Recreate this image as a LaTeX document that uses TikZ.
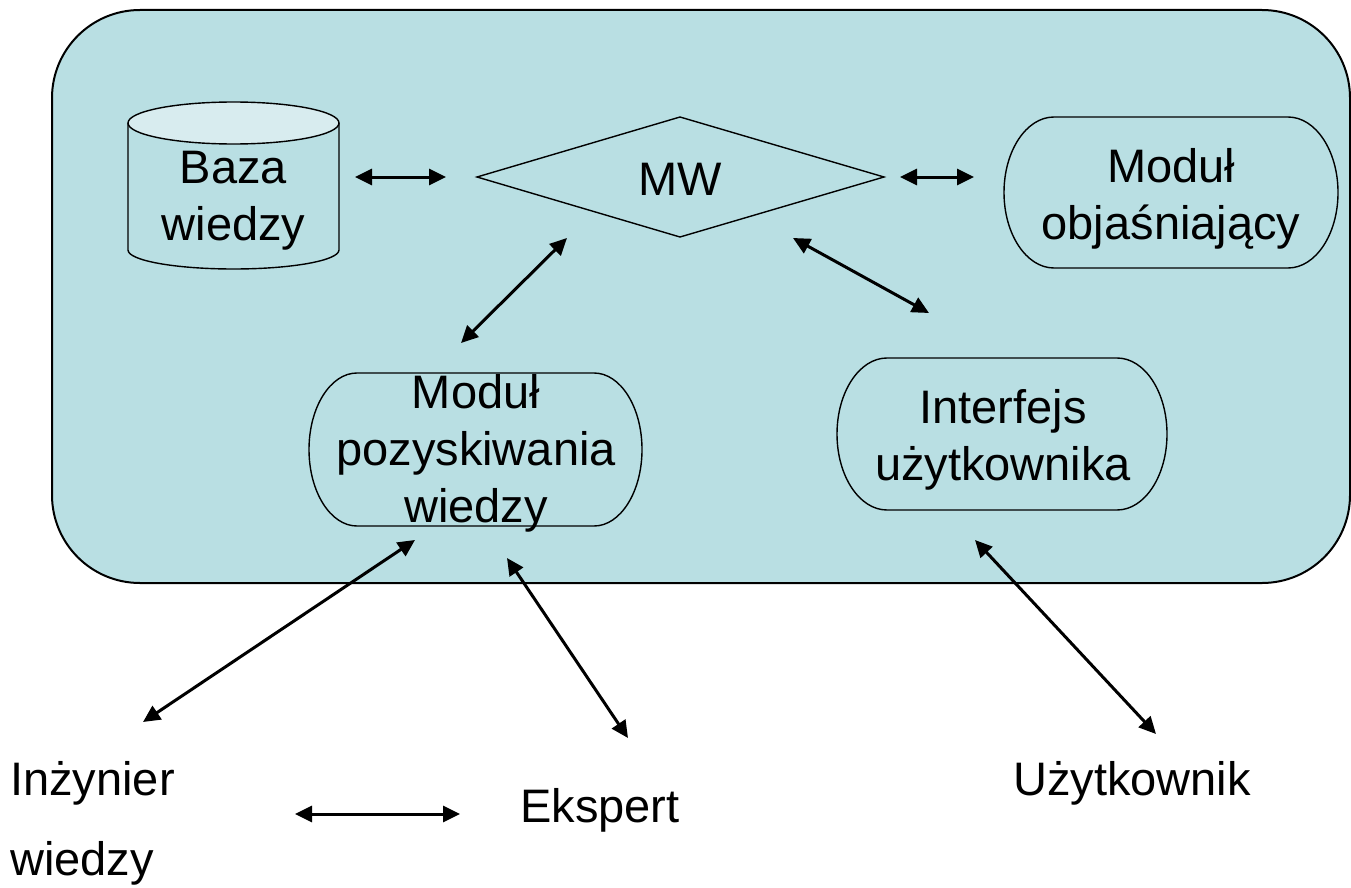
\documentclass[tikz,border=0pt]{standalone}
\usepackage{fontspec}
\setmainfont{Liberation Sans}
\usetikzlibrary{arrows.meta}
\definecolor{panel}{HTML}{B9DFE3}
\definecolor{lidcol}{HTML}{D8ECEF}
\tikzset{
  outline/.style={draw=black, line width=1.4pt},
  label/.style={inner sep=0pt, align=center, font=\fontsize{47}{57}\selectfont},
  link/.style={line width=3pt, {Triangle[length=17pt,width=16pt]}-{Triangle[length=17pt,width=16pt]}},
}
\begin{document}
% one unit = one pixel, y grows downwards
\begin{tikzpicture}[x=1pt, y=-1pt]
\useasboundingbox (0,0) rectangle (1351,888);
\fill[white] (0,0) rectangle (1351,888);

% system panel
\draw[fill=panel, line width=2pt, rounded corners=88pt] (52,10) rectangle (1350,583);

% knowledge base cylinder
\draw[outline, fill=panel] (128,123) -- (128,250)
  arc[start angle=180, end angle=0, x radius=105.5, y radius=19] -- (339,123);
\draw[outline, fill=lidcol] (233.5,123) ellipse[x radius=105.5, y radius=21];
\node[label, anchor=base] (kb) at (233.5,240) {Baza\\wiedzy};

% inference engine
\draw[outline] (477,177) -- (680,117) -- (884,177) -- (680,237) -- cycle;
\node[label, anchor=base] (mw) at (680,195) {MW};

% explanation module
\draw[outline] (1054,117) -- (1288,117)
  arc[start angle=-90, end angle=90, x radius=50, y radius=75.5] -- (1054,268)
  arc[start angle=90, end angle=270, x radius=50, y radius=75.5];
\node[label, anchor=base] (expl) at (1171,239) {Moduł\\objaśniający};

% knowledge acquisition module
\draw[outline] (357,373) -- (594,373)
  arc[start angle=-90, end angle=90, x radius=48, y radius=76.5] -- (357,526)
  arc[start angle=90, end angle=270, x radius=48, y radius=76.5];
\node[label, anchor=base] (acq) at (476,522) {Moduł\\pozyskiwania\\wiedzy};

% user interface
\draw[outline] (887,358) -- (1117,358)
  arc[start angle=-90, end angle=90, x radius=50, y radius=76] -- (887,510)
  arc[start angle=90, end angle=270, x radius=50, y radius=76];
\node[label, anchor=base] (ui) at (1003,480) {Interfejs\\użytkownika};

% people outside the system
\node[label, anchor=base west] (eng1) at (10,795) {Inżynier};
\node[label, anchor=base west] (eng2) at (10,875) {wiedzy};
\node[label, anchor=base] (exp) at (600,822) {Ekspert};
\node[label, anchor=base] (user) at (1132,795) {Użytkownik};

% connector ends
\coordinate (kbR) at (355,177);
\coordinate (mwL) at (446,177);
\coordinate (mwR) at (900,177);
\coordinate (explL) at (974,177);
\coordinate (mwBL) at (567,238);
\coordinate (acqT) at (461,343);
\coordinate (mwBR) at (793,238);
\coordinate (uiT) at (929,313);
\coordinate (acqBL) at (415,540);
\coordinate (engT) at (143,722);
\coordinate (acqBR) at (507,558);
\coordinate (expT) at (628,738);
\coordinate (uiB) at (975,540);
\coordinate (userT) at (1156,734);
\coordinate (engR) at (295,814);
\coordinate (expL) at (460,814);

\draw[link] (kbR) -- (mwL);
\draw[link] (mwR) -- (explL);
\draw[link] (mwBL) -- (acqT);
\draw[link] (mwBR) -- (uiT);
\draw[link] (acqBL) -- (engT);
\draw[link] (acqBR) -- (expT);
\draw[link] (uiB) -- (userT);
\draw[link] (engR) -- (expL);
\end{tikzpicture}
\end{document}
